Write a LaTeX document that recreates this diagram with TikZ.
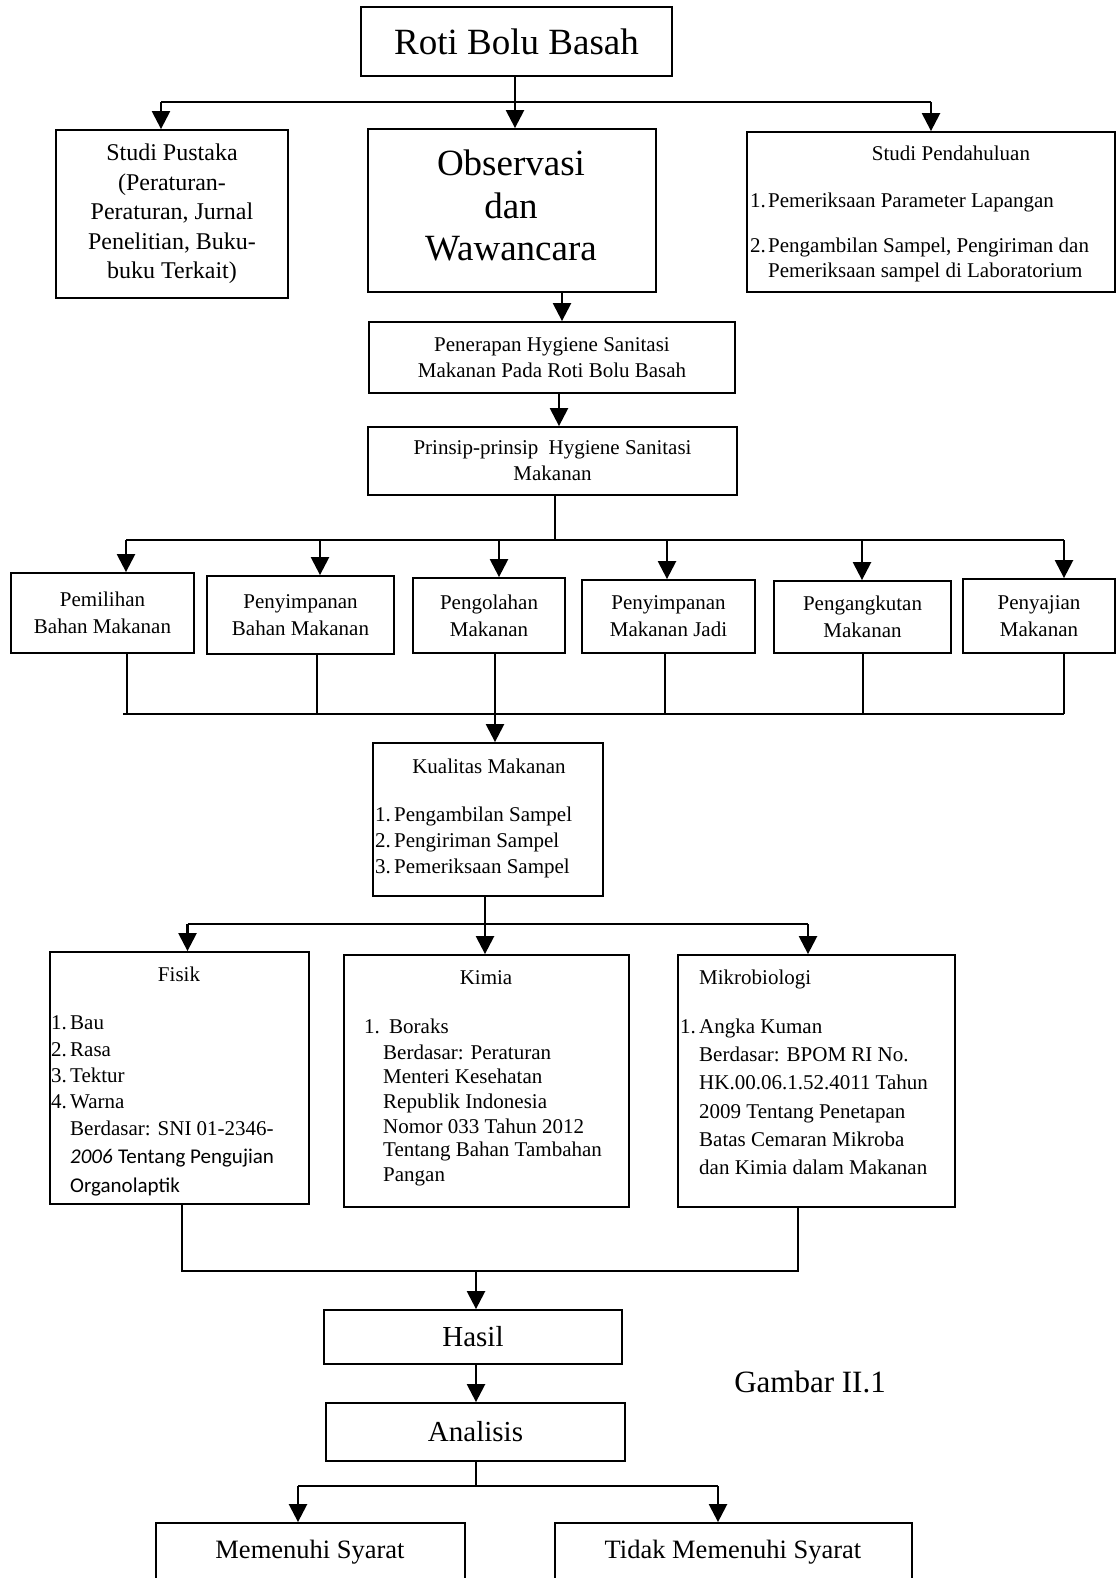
\documentclass[tikz,border=0pt]{standalone}
\usepackage{fontspec}
\setmainfont{Liberation Serif}
\newfontfamily\calibri{Carlito}
\usetikzlibrary{arrows.meta}
\begin{document}
\begin{tikzpicture}[x=1pt,y=-1pt,
  box/.style={draw, line width=1.8pt, rectangle, inner sep=0pt, align=center},
  ln/.style={line width=1.7pt},
  arr/.style={line width=2.4pt, -{Triangle[length=18pt,width=18pt]}},
  fs/.style 2 args={font=\fontsize{#1}{#2}\selectfont},
  lt/.style={anchor=base west, inner sep=0pt, font=\fontsize{21}{26}\selectfont},
  ct/.style={anchor=base, inner sep=0pt, font=\fontsize{21}{26}\selectfont},
]
\clip (0,0) rectangle (1117,1578);
\fill[white] (0,0) rectangle (1117,1578);

% ---- top level
\node[box, minimum width=311pt, minimum height=69pt, fs={37}{45}] (roti) at (516.5,41.5) {Roti Bolu Basah};
\node[box, minimum width=232pt, minimum height=168pt, fs={24}{29.5}] (pustaka) at (172,214) {Studi Pustaka\\(Peraturan-\\Peraturan, Jurnal\\Penelitian, Buku-\\buku Terkait)};
\node[box, minimum width=288pt, minimum height=163pt] (obs) at (512,210.5) {};
\node[align=center, inner sep=0pt, fs={37}{42.5}] (obst) at (511,205.5) {Observasi\\dan\\Wawancara};
\node[box, minimum width=368pt, minimum height=160pt] (pend) at (931,212) {};
\node[ct] (pendt) at (951,161) {Studi Pendahuluan};
\node[lt] (pn1) at (750,208) {1.};
\node[lt] (pt1) at (768,208) {Pemeriksaan Parameter Lapangan};
\node[lt] (pn2) at (750,253) {2.};
\node[lt] (pt2) at (768,253) {Pengambilan Sampel, Pengiriman dan};
\node[lt] (pt3) at (768,278) {Pemeriksaan sampel di Laboratorium};

\node[box, minimum width=366pt, minimum height=71pt, fs={21}{26}] (pen) at (552,357.5) {Penerapan Hygiene Sanitasi\\Makanan Pada Roti Bolu Basah};
\node[box, minimum width=369pt, minimum height=68pt, fs={21}{26}] (prin) at (552.5,461) {Prinsip-prinsip\hspace{5pt} Hygiene Sanitasi\\Makanan};

% ---- six boxes
\node[box, minimum width=183pt, minimum height=80pt, fs={21}{27}] (pemilihan) at (102.5,613) {Pemilihan\\Bahan Makanan};
\node[box, minimum width=187pt, minimum height=78pt, fs={21}{27}] (penyb) at (300.5,615) {Penyimpanan\\Bahan Makanan};
\node[box, minimum width=152pt, minimum height=75pt, fs={21}{27}] (pengol) at (489,615.5) {Pengolahan\\Makanan};
\node[box, minimum width=173pt, minimum height=73pt, fs={21}{27}] (penyj) at (668.5,616.5) {Penyimpanan\\Makanan Jadi};
\node[box, minimum width=177pt, minimum height=72pt, fs={21}{27}] (pengang) at (862.5,617) {Pengangkutan\\Makanan};
\node[box, minimum width=152pt, minimum height=74pt, fs={21}{27}] (penyaj) at (1039,616) {Penyajian\\Makanan};

% ---- kualitas
\node[box, minimum width=230pt, minimum height=153pt] (kual) at (488,819.5) {};
\node[ct] (kualt) at (489,773) {Kualitas Makanan};
\node[lt] (kn1) at (375,821) {1.};
\node[lt] (kt1) at (394,821) {Pengambilan Sampel};
\node[lt] (kn2) at (375,847) {2.};
\node[lt] (kt2) at (394,847) {Pengiriman Sampel};
\node[lt] (kn3) at (375,873) {3.};
\node[lt] (kt3) at (394,873) {Pemeriksaan Sampel};

% ---- fisik / kimia / mikro
\node[box, minimum width=259pt, minimum height=252pt] (fisik) at (179.5,1078) {};
\node[ct] (fisikt) at (179,981) {Fisik};
\node[lt] (fn1) at (51,1029) {1.};
\node[lt] (ft1) at (70,1029) {Bau};
\node[lt] (fn2) at (51,1056) {2.};
\node[lt] (ft2) at (70,1056) {Rasa};
\node[lt] (fn3) at (51,1082) {3.};
\node[lt] (ft3) at (70,1082) {Tektur};
\node[lt] (fn4) at (51,1108) {4.};
\node[lt] (ft4) at (70,1108) {Warna};
\node[lt] (ft5) at (70,1135) {Berdasar: SNI 01-2346-};
\node[lt] (ft6) at (70,1163) {{\calibri\itshape 2006} {\calibri Tentang Pengujian}};
\node[lt] (ft7) at (70,1192) {\calibri Organolaptik};

\node[box, minimum width=285pt, minimum height=252pt] (kimia) at (486.5,1081) {};
\node[ct] (kimiat) at (486,984) {Kimia};
\node[lt] (kmn1) at (364,1033) {1.};
\node[lt] (kmt1) at (389,1033) {Boraks};
\node[lt] (kmt2) at (383,1059) {Berdasar: Peraturan};
\node[lt] (kmt3) at (383,1083) {Menteri Kesehatan};
\node[lt] (kmt4) at (383,1108) {Republik Indonesia};
\node[lt] (kmt5) at (383,1133) {Nomor 033 Tahun 2012};
\node[lt] (kmt6) at (383,1156) {Tentang Bahan Tambahan};
\node[lt] (kmt7) at (383,1181) {Pangan};

\node[box, minimum width=277pt, minimum height=252pt] (mikro) at (816.5,1081) {};
\node[lt] (mikrot) at (699,984) {Mikrobiologi};
\node[lt] (mn1) at (680,1033) {1.};
\node[lt] (mt1) at (699,1033) {Angka Kuman};
\node[lt] (mt2) at (699,1061) {Berdasar: BPOM RI No.};
\node[lt] (mt3) at (699,1089) {HK.00.06.1.52.4011 Tahun};
\node[lt] (mt4) at (699,1118) {2009 Tentang Penetapan};
\node[lt] (mt5) at (699,1146) {Batas Cemaran Mikroba};
\node[lt] (mt6) at (699,1174) {dan Kimia dalam Makanan};

% ---- bottom
\node[box, minimum width=298pt, minimum height=54pt, fs={29}{34}] (hasil) at (473,1337) {Hasil};
\node[box, minimum width=299pt, minimum height=58pt, fs={29}{34}] (anal) at (475.5,1432) {Analisis};
\node[box, minimum width=309pt, minimum height=77pt] (mem) at (310.5,1561.5) {};
\node[anchor=center, inner sep=0pt, fs={26.5}{30}] (memt) at (310,1552) {Memenuhi Syarat};
\node[box, minimum width=357pt, minimum height=77pt] (tidak) at (733.5,1561.5) {};
\node[anchor=center, inner sep=0pt, fs={26.5}{30}] (tidakt) at (733,1552) {Tidak Memenuhi Syarat};
\node[anchor=center, inner sep=0pt, fs={31}{36}] (gambar) at (810,1382) {Gambar II.1};

% ---- connectors
\coordinate (ra) at (515,76);
\draw[arr] (ra) -- (ra |- obs.north);
\coordinate (tl) at (161,102);
\coordinate (tr) at (931,102);
\draw[ln] (tl) -- (tr);
\draw[arr] (tl) -- (tl |- pustaka.north);
\draw[arr] (tr) -- (tr |- pend.north);

\coordinate (oa) at (562,292);
\draw[arr] (oa) -- (oa |- pen.north);
\coordinate (pa) at (559,393);
\draw[arr] (pa) -- (pa |- prin.north);

\coordinate (b0) at (555,540);
\draw[ln] (b0 |- prin.south) -- (b0);
\coordinate (bl) at (126,540);
\coordinate (br) at (1064,540);
\draw[ln] (bl) -- (br);
\foreach \x/\n in {126/pemilihan,320/penyb,499/pengol,667/penyj,862/pengang,1064/penyaj}{
  \coordinate (c\n) at (\x,540);
  \draw[arr] (c\n) -- (c\n |- \n.north);
}
\foreach \x/\n in {127/pemilihan,317/penyb,495/pengol,665/penyj,863/pengang,1064/penyaj}{
  \coordinate (d\n) at (\x,714);
  \draw[ln] (d\n |- \n.south) -- (d\n);
}
\coordinate (dl) at (123,714);
\coordinate (dr) at (1064,714);
\draw[ln] (dl) -- (dr);
\coordinate (kq) at (495,714);
\draw[arr] (kq) -- (kq |- kual.north);

\coordinate (k2) at (485,924);
\draw[ln] (k2 |- kual.south) -- (k2);
\coordinate (kl) at (187.5,924);
\coordinate (kr) at (808,924);
\draw[ln] (kl) -- (kr);
\draw[arr] (kl) -- (kl |- fisik.north);
\draw[arr] (k2) -- (k2 |- kimia.north);
\draw[arr] (kr) -- (kr |- mikro.north);

\coordinate (f1) at (182,1271);
\coordinate (m1) at (798,1271);
\draw[ln] (f1 |- fisik.south) -- (f1) -- (m1) -- (m1 |- mikro.south);
\coordinate (h0) at (476,1271);
\draw[arr] (h0) -- (h0 |- hasil.north);
\draw[arr] (h0 |- hasil.south) -- (h0 |- anal.north);

\coordinate (a0) at (476,1486);
\draw[ln] (a0 |- anal.south) -- (a0);
\coordinate (al) at (298,1486);
\coordinate (ar) at (718,1486);
\draw[ln] (al) -- (ar);
\draw[arr] (al) -- (al |- mem.north);
\draw[arr] (ar) -- (ar |- tidak.north);
\end{tikzpicture}
\end{document}
